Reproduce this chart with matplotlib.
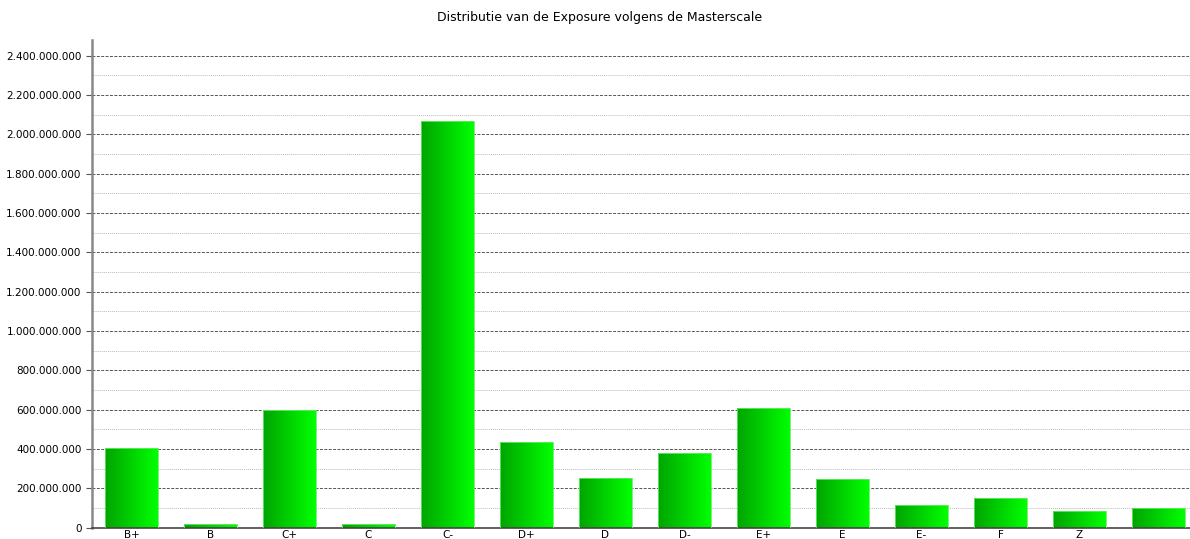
import numpy as np
import matplotlib.pyplot as plt
from matplotlib.ticker import FuncFormatter, MultipleLocator

# data
categories = ["B+", "B", "C+", "C", "C-", "D+", "D", "D-", "E+", "E", "E-", "F", "Z", ""]
exposure = [406e6, 20e6, 598e6, 20e6, 2066e6, 436e6, 253e6, 380e6,
            606e6, 247e6, 115e6, 149e6, 85e6, 102e6]

fig = plt.figure(figsize=(11.9, 5.39), dpi=100)
# axes runs slightly past the right edge like the original
ax = fig.add_axes([92 / 1190, 1 - 527.7 / 539, 1106 / 1190, 487.7 / 539])

x = np.arange(len(categories))
bars = ax.bar(x, exposure, width=0.67, color="none", edgecolor="#66ee66",
              linewidth=0.6, zorder=3)

# horizontal gradient fill dark green -> bright green
grad = np.linspace(0, 1, 256).reshape(1, -1)
cmap = plt.matplotlib.colors.LinearSegmentedColormap.from_list(
    "grn", ["#00a400", "#00ff00"])
for b in bars:
    x0, w, h = b.get_x(), b.get_width(), b.get_height()
    im = ax.imshow(grad, cmap=cmap, aspect="auto", extent=[x0, x0 + w, 0, h],
                   zorder=2, interpolation="bicubic")
    im.set_clip_path(b)

ax.set_xlim(-0.5, len(categories) - 0.5)
ax.set_ylim(0, 2479e6)

ax.yaxis.set_major_locator(MultipleLocator(200e6))
ax.yaxis.set_minor_locator(MultipleLocator(100e6))
ax.yaxis.set_major_formatter(FuncFormatter(lambda v, p: f"{int(v):,}".replace(",", ".")))
ax.grid(axis="y", which="major", color="#555555", linestyle=(0, (3, 1.5)), linewidth=0.7, zorder=0)
ax.grid(axis="y", which="minor", color="#bbbbbb", linestyle=(0, (1, 1)), linewidth=0.7, zorder=0)

ax.set_xticks(x)
ax.set_xticklabels(categories, fontsize=7.5)
ax.tick_params(axis="x", length=0, pad=1.5)
ax.tick_params(axis="y", which="major", length=4, labelsize=7.5, color="#555555")
ax.tick_params(axis="y", which="minor", length=0)

for s in ["top", "right"]:
    ax.spines[s].set_visible(False)
ax.spines["left"].set_color("#888888")
ax.spines["left"].set_linewidth(1.8)
ax.spines["bottom"].set_color("#444444")
ax.spines["bottom"].set_linewidth(1.2)

fig.text(600 / 1190, 1 - 18 / 539, "Distributie van de Exposure volgens de Masterscale",
         ha="center", va="center", fontsize=9)

fig.savefig("out.png", dpi=100)
